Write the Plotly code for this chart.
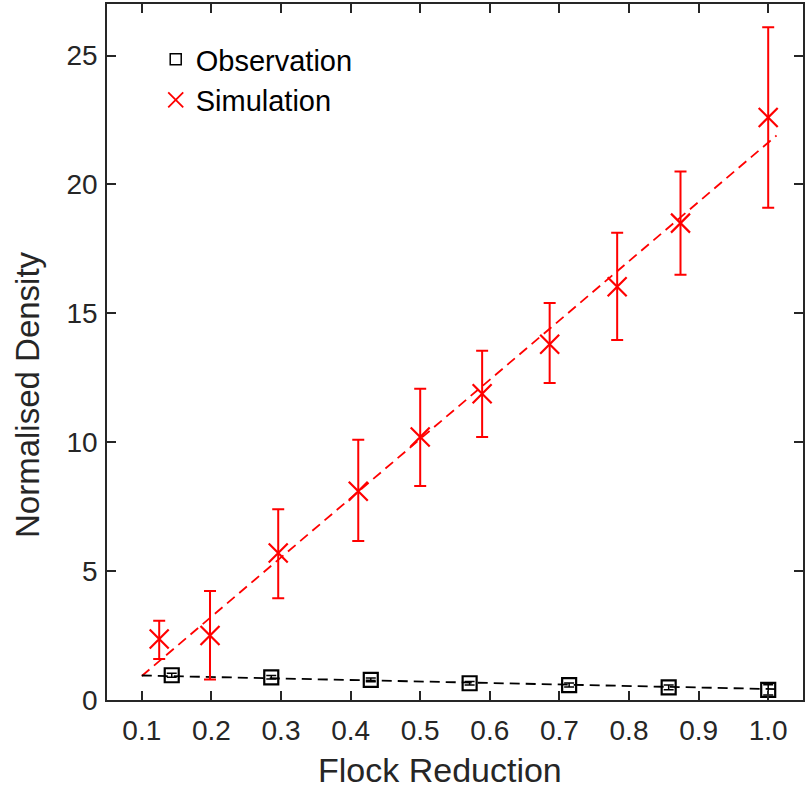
import plotly.graph_objects as go

# Simulation data
sim_x = [0.125, 0.198, 0.296, 0.411, 0.500, 0.589, 0.686, 0.783, 0.874, 1.000]
sim_y = [2.37, 2.50, 5.70, 8.10, 10.20, 11.88, 13.80, 16.03, 18.50, 22.60]
sim_hi = [3.07, 4.23, 7.40, 10.10, 12.07, 13.55, 15.40, 18.13, 20.50, 26.10]
sim_lo = [1.59, 0.80, 3.95, 6.17, 8.30, 10.20, 12.30, 13.97, 16.50, 19.10]
sim_fit_x = [0.10, 1.012]
sim_fit_y = [0.93, 21.90]

# Observation data
obs_x = [0.143, 0.286, 0.429, 0.571, 0.714, 0.857, 1.000]
obs_y = [0.96, 0.88, 0.78, 0.65, 0.58, 0.49, 0.39]
obs_err = [0.08, 0.07, 0.07, 0.07, 0.08, 0.09, 0.20]
obs_fit_x = [0.10, 1.012]
obs_fit_y = [0.95, 0.42]

x_ticks = [0.1, 0.2, 0.3, 0.4, 0.5, 0.6, 0.7, 0.8, 0.9, 1.0]
x_ticklabels = ["0.1", "0.2", "0.3", "0.4", "0.5", "0.6", "0.7", "0.8", "0.9", "1.0"]
y_ticks = [0, 5, 10, 15, 20, 25]

x_title = "Flock Reduction"
y_title = "Normalised Density"

RED = "#ff0000"
BLACK = "#000000"
AX = "#262626"
FONT = "Liberation Sans, Arial, sans-serif"

fig = go.Figure()

fig.add_trace(go.Scatter(
    x=sim_fit_x, y=sim_fit_y, mode="lines",
    line=dict(color=RED, width=1.8, dash="10px,6px"), showlegend=False, hoverinfo="skip"))
fig.add_trace(go.Scatter(
    x=obs_fit_x, y=obs_fit_y, mode="lines",
    line=dict(color=BLACK, width=1.8, dash="10px,6px"), showlegend=False, hoverinfo="skip"))

fig.add_trace(go.Scatter(
    x=sim_x, y=sim_y, mode="markers",
    marker=dict(symbol="x-thin-open", size=19, color=RED, line=dict(color=RED, width=2.2)),
    error_y=dict(type="data", symmetric=False,
                 array=[h - y for h, y in zip(sim_hi, sim_y)],
                 arrayminus=[y - l for l, y in zip(sim_lo, sim_y)],
                 color=RED, thickness=2, width=6),
    showlegend=False))

fig.add_trace(go.Scatter(
    x=obs_x, y=obs_y, mode="markers",
    marker=dict(symbol="square-open", size=14, color=BLACK, line=dict(color=BLACK, width=2.2)),
    error_y=dict(type="data", array=obs_err, color=BLACK, thickness=1.5, width=5),
    showlegend=False))

# legend entries
fig.add_trace(go.Scatter(
    x=[None], y=[None], mode="markers", name="Observation",
    marker=dict(symbol="square-open", size=11, color=BLACK, line=dict(color=BLACK, width=1.5))))
fig.add_trace(go.Scatter(
    x=[None], y=[None], mode="markers", name="Simulation",
    marker=dict(symbol="x-thin-open", size=15, color=RED, line=dict(color=RED, width=1.8))))

axis_common = dict(
    showgrid=False, zeroline=False, showline=True, linecolor=AX, linewidth=1.5,
    mirror="ticks", ticks="inside", ticklen=9, tickwidth=1.5, tickcolor=AX,
    tickfont=dict(family=FONT, size=28, color=AX), automargin=False,
)

fig.update_layout(
    width=805, height=789,
    margin=dict(l=107, r=2, t=4, b=89),
    paper_bgcolor="white", plot_bgcolor="white",
    font=dict(family=FONT, color=AX),
    xaxis=dict(range=[0.05, 1.05], tickvals=x_ticks, ticktext=x_ticklabels,
               ticklabelstandoff=5, **axis_common),
    yaxis=dict(range=[0, 27], tickvals=y_ticks, ticklabelstandoff=2, **axis_common),
    legend=dict(x=0.07, y=0.957, xanchor="left", yanchor="top",
                bgcolor="rgba(0,0,0,0)", font=dict(family=FONT, size=29, color="#000000"),
                itemwidth=30, tracegroupgap=0),
    showlegend=True,
    annotations=[
        dict(text=x_title, xref="paper", yref="paper", x=(440 - 107) / 696, y=-(770 - 700) / 696,
             xanchor="center", yanchor="middle", showarrow=False,
             font=dict(family=FONT, size=34, color=AX)),
        dict(text=y_title, xref="paper", yref="paper", x=-(107 - 27) / 696, y=(700 - 395) / 696,
             xanchor="center", yanchor="middle", showarrow=False, textangle=-90,
             font=dict(family=FONT, size=33, color=AX)),
    ],
)

fig.write_html("out.html")
